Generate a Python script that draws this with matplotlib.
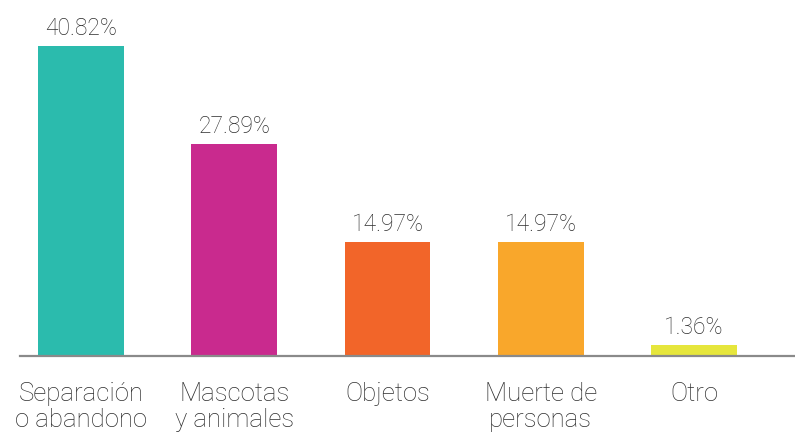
import matplotlib
matplotlib.use("Agg")
import matplotlib.pyplot as plt

categories = ["Separación\no abandono", "Mascotas\ny animales", "Objetos", "Muerte de\npersonas", "Otro"]
values = [40.82, 27.89, 14.97, 14.97, 1.36]
labels = ["40.82%", "27.89%", "14.97%", "14.97%", "1.36%"]
colors = ["#2BBBAD", "#C92A8E", "#F26529", "#F9A72B", "#E6E63C"]

plt.rcParams["font.family"] = ["Roboto", "DejaVu Sans"]
text_color = "#2e2e2e"

fig = plt.figure(figsize=(7.95, 4.33), dpi=100)
# axes box in figure fractions: baseline at y=355.5 px from top
bottom = (433 - 355.5) / 433
height = 45 * 7.582 / 433
left = 20 / 795
ax = fig.add_axes([left, bottom, 1 - left, height])

x = list(range(len(values)))
bars = ax.bar(x, values, width=0.56, color=colors, zorder=2)
ax.set_xlim(-0.399, 4.66)
ax.set_ylim(0, 45)

for xi, v, lab in zip(x, values, labels):
    ax.annotate(lab, (xi, v), xytext=(0, 4.5), textcoords="offset points",
                ha="center", va="bottom", fontsize=16.5, fontweight="light",
                color=text_color)

for xi, cat in zip(x, categories):
    ax.annotate(cat, (xi, 0), xytext=(0, -19), textcoords="offset points",
                ha="center", va="top", fontsize=18.5, fontweight="light",
                color=text_color, linespacing=1.12)

for s in ["top", "right", "left"]:
    ax.spines[s].set_visible(False)
ax.spines["bottom"].set_color("#8a8a8a")
ax.spines["bottom"].set_linewidth(1.6)
ax.set_xticks([])
ax.set_yticks([])

fig.savefig("out.png", dpi=100)
